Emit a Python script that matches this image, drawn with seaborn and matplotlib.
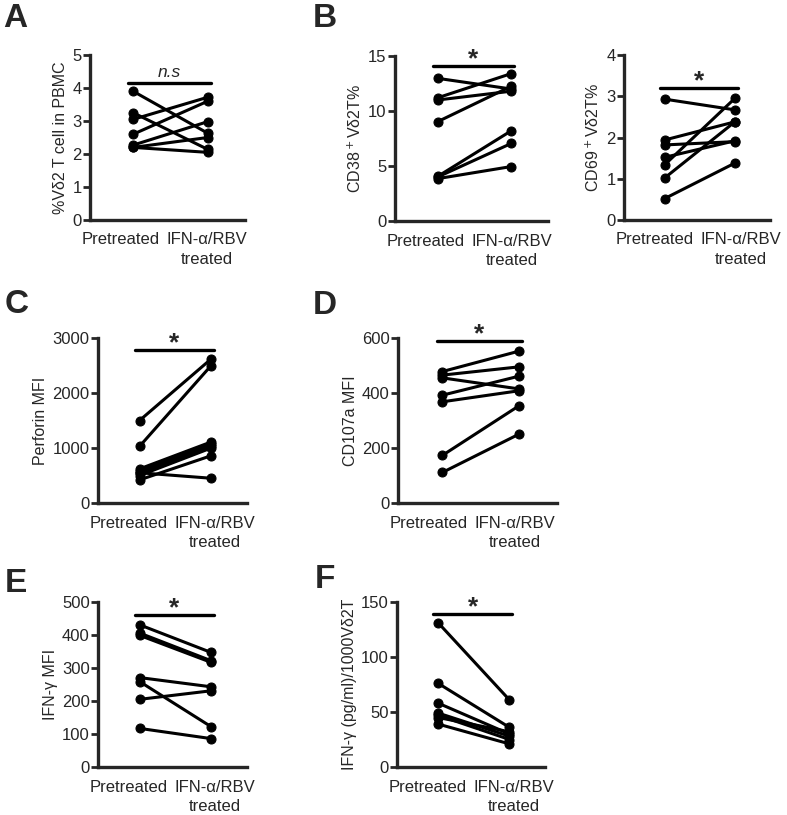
import numpy as np
import pandas as pd
import matplotlib
matplotlib.use("Agg")
import matplotlib.pyplot as plt
import seaborn as sns

sns.set_style("ticks")
plt.rcParams['font.family'] = ['Liberation Sans', 'DejaVu Sans']

conditions = ["Pretreated", "IFN-\u03b1/RBV\ntreated"]

# paired values (pretreated, treated)
vd2_pre = [3.9, 3.25, 3.05, 2.6, 2.27, 2.2, 2.2]
vd2_post = [2.63, 2.14, 3.72, 3.6, 2.98, 2.5, 2.05]

cd38_pre = [12.97, 11.2, 11.0, 9.03, 4.05, 4.0, 3.85]
cd38_post = [12.0, 13.4, 11.8, 12.25, 8.2, 7.05, 4.95]

cd69_pre = [2.93, 1.94, 1.82, 1.52, 1.34, 1.02, 0.52]
cd69_post = [2.67, 2.38, 1.9, 1.92, 2.95, 2.38, 1.38]

perforin_pre = [1500, 1030, 620, 580, 540, 500, 420, 550]
perforin_post = [2620, 2500, 1110, 1080, 1040, 1000, 860, 450]

cd107a_pre = [478, 465, 455, 392, 368, 173, 111]
cd107a_post = [552, 495, 415, 461, 408, 353, 250]

ifng_mfi_pre = [431, 406, 399, 271, 259, 205, 117]
ifng_mfi_post = [347, 322, 317, 243, 122, 231, 86]

ifng_sec_pre = [131, 76, 58, 49, 47, 45, 39]
ifng_sec_post = [61, 36, 30, 28, 25, 32, 21]

panels = [
    # pre, post, ylabel, ymax, ticks, bar y, label, axes rect px (left, top, right, bottom)
    (vd2_pre, vd2_post, "%V\u03b42 T cell in PBMC", 5, [0, 1, 2, 3, 4, 5], 4.16, "n.s", (90, 55, 245, 220)),
    (cd38_pre, cd38_post, "CD38$^+$V\u03b42T%", 15, [0, 5, 10, 15], 14.1, "*", (395, 56, 548, 221)),
    (cd69_pre, cd69_post, "CD69$^+$V\u03b42T%", 4, [0, 1, 2, 3, 4], 3.21, "*", (624, 55, 770, 220)),
    (perforin_pre, perforin_post, "Perforin MFI", 3000, [0, 1000, 2000, 3000], 2780, "*", (98, 338, 247, 503)),
    (cd107a_pre, cd107a_post, "CD107a MFI", 600, [0, 200, 400, 600], 590, "*", (398, 338, 557, 503)),
    (ifng_mfi_pre, ifng_mfi_post, "IFN-\u03b3 MFI", 500, [0, 100, 200, 300, 400, 500], 461, "*", (98, 602, 247, 767)),
    (ifng_sec_pre, ifng_sec_post, "IFN-\u03b3 (pg/ml)/1000V\u03b42T", 150, [0, 50, 100, 150], 139, "*", (397, 602, 545, 767)),
]

W, H = 787, 815
X0, X1 = -0.58, 1.5
fig = plt.figure(figsize=(W / 100, H / 100), dpi=100)

for pre, post, ylabel, ymax, ticks, bar_y, sig, (l, t, r, b) in panels:
    ax = fig.add_axes([l / W, 1 - b / H, (r - l) / W, (b - t) / H])
    n = len(pre)
    df = pd.DataFrame({
        "subject": list(range(n)) * 2,
        "x": [0] * n + [1] * n,
        "value": list(pre) + list(post),
    })
    sns.lineplot(data=df, x="x", y="value", units="subject", estimator=None,
                 color="black", lw=2.2, marker="o", markersize=6.5,
                 markeredgecolor="black", ax=ax, clip_on=False)
    ax.set_xlim(X0, X1)
    ax.set_ylim(0, ymax)
    ax.set_yticks(ticks)
    # category labels sit at fixed pixel offsets from the y spine
    upp = (r - l) / (X1 - X0)
    ax.set_xticks([X0 + 31 / upp, X0 + 117 / upp])
    ax.set_xticklabels(conditions, fontsize=12, linespacing=1.4)
    ax.tick_params(axis="x", length=0, pad=9)
    ax.tick_params(axis="y", length=5, width=2, labelsize=12, pad=1)
    ax.set_xlabel("")
    ax.set_ylabel(ylabel, fontsize=11.5, labelpad=3)
    for s in ["top", "right"]:
        ax.spines[s].set_visible(False)
    for s in ["left", "bottom"]:
        ax.spines[s].set_linewidth(2.4)
    ax.plot([-0.07, 1.04], [bar_y, bar_y], color="black", lw=2.4, clip_on=False)
    if sig == "*":
        ax.annotate("*", (0.485, bar_y), xytext=(0, -4), textcoords="offset points",
                    ha="center", va="bottom", fontsize=19, fontweight="bold")
    else:
        ax.annotate(sig, (0.485, bar_y), xytext=(0, 2), textcoords="offset points",
                    ha="center", va="bottom", fontsize=12.5, style="italic")

letters = [("A", 3, 3), ("B", 313, 3), ("C", 5, 289), ("D", 313, 290), ("E", 5, 568), ("F", 315, 564)]
for txt, x, y in letters:
    fig.text(x / W, 1 - y / H, txt, fontsize=24, fontweight="bold", ha="left", va="top")

fig.savefig("out.png", dpi=100)
